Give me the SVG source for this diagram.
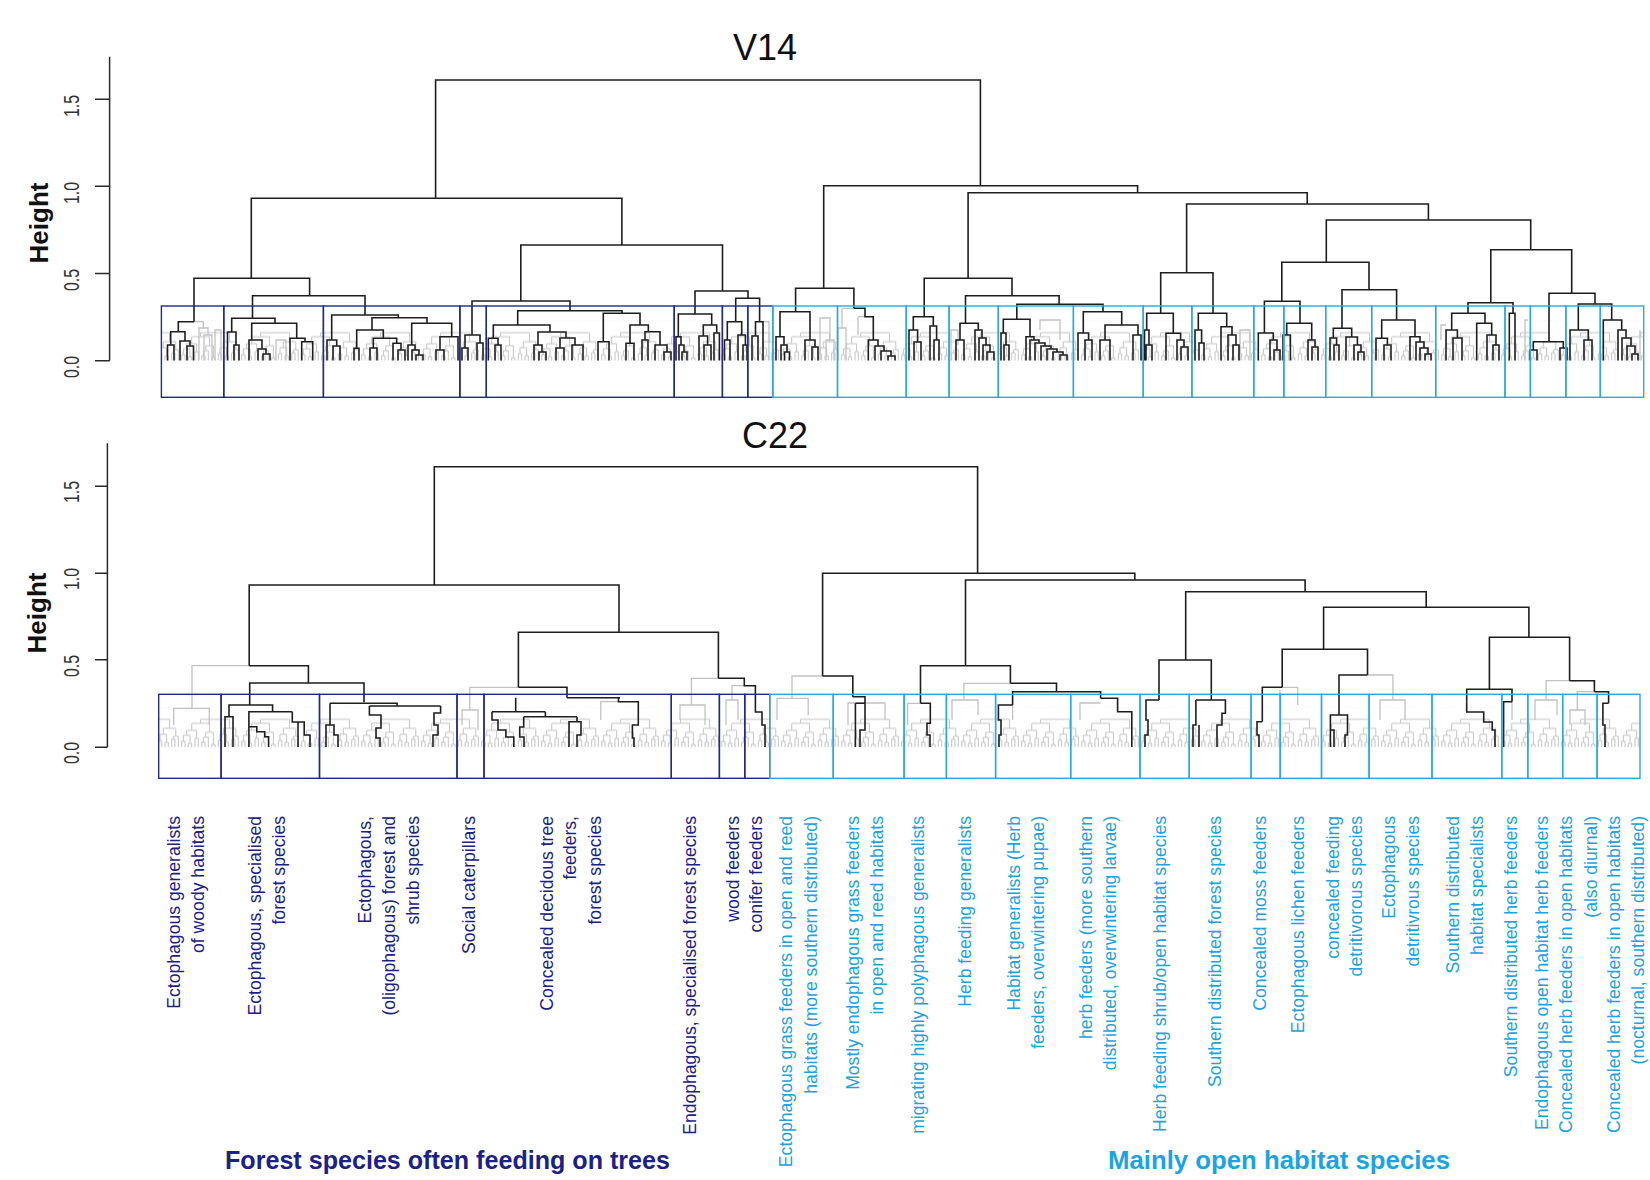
<svg xmlns="http://www.w3.org/2000/svg" width="1650" height="1180" viewBox="0 0 1650 1180">
<defs>
<style>
.blk{fill:none;stroke:#1e1e1e;stroke-width:1.6;stroke-linejoin:miter}
.gry{fill:none;stroke:#c2c2c2;stroke-width:1.3}
.ax{fill:none;stroke:#2a2a2a;stroke-width:1.5}
.nv{fill:none;stroke:#1f2a8e;stroke-width:1.4}
.lb{fill:none;stroke:#27aae3;stroke-width:1.4}
.tick{font-family:"Liberation Sans",Arial,sans-serif;font-size:16px;fill:#333;text-anchor:middle}
.ylab{font-family:"Liberation Sans",Arial,sans-serif;font-size:26px;font-weight:bold;fill:#111;text-anchor:middle}
.ttl{font-family:"Liberation Sans",Arial,sans-serif;font-size:36px;fill:#111;text-anchor:middle}
.lab{font-family:"Liberation Sans",Arial,sans-serif;font-size:17.6px;text-anchor:end}
.ln{fill:#1b2187}
.ll{fill:#1ba3e2}
.grp{font-family:"Liberation Sans",Arial,sans-serif;font-size:25px;font-weight:bold}
</style>
<pattern id="leaves" patternUnits="userSpaceOnUse" x="0" y="-40" width="60" height="40">
<path fill="none" stroke="#c4c4c4" stroke-width="1" d="M1.7,40V34H5V40M8.3,40V36H11.7V40M3.35,34V28H10V36M15,40V31H18.3V40M6.7,28V23H16.65V31M21.7,40V35H25V40M28.3,40V30H23.35V35M31.7,40V37H35V40M25.8,30V25H33.35V37M11.7,23V16H29.6V25M38.3,40V33H41.7V40M45,40V35H48.3V40M40,33V27H46.65V35M51.7,40V32H55V40M53.35,32V29H58.3V40M43.3,27V21H55.8V29M20.6,16V12H49.6V21"/>
</pattern>
</defs>
<rect width="1650" height="1180" fill="#fff"/>

<!-- axes -->
<g id="axis-v14">
<path class="ax" d="M109.6,56.7V360.7M95,99.3H109.6M95,186.3H109.6M95,273.5H109.6M95,360.7H109.6"/>
<text class="tick" transform="translate(79,106) scale(1.4,1) rotate(-90)">1.5</text>
<text class="tick" transform="translate(79,193) scale(1.4,1) rotate(-90)">1.0</text>
<text class="tick" transform="translate(79,280) scale(1.4,1) rotate(-90)">0.5</text>
<text class="tick" transform="translate(79,367) scale(1.4,1) rotate(-90)">0.0</text>
<text class="ylab" transform="translate(48,223) rotate(-90)">Height</text>
<text class="ttl" x="765" y="60">V14</text>
</g>
<g id="axis-c22">
<path class="ax" d="M107.4,443.3V747.3M95,486.3H107.4M95,573.3H107.4M95,659.7H107.4M95,747.3H107.4"/>
<text class="tick" transform="translate(79,492) scale(1.4,1) rotate(-90)">1.5</text>
<text class="tick" transform="translate(79,579) scale(1.4,1) rotate(-90)">1.0</text>
<text class="tick" transform="translate(79,666) scale(1.4,1) rotate(-90)">0.5</text>
<text class="tick" transform="translate(79,753) scale(1.4,1) rotate(-90)">0.0</text>
<text class="ylab" transform="translate(46,613) rotate(-90)">Height</text>
<text class="ttl" x="775" y="448">C22</text>
</g>

<!-- leaf texture -->
<g id="leaves-v14" transform="translate(0,360.7)"><rect x="161.4" y="-40" width="1482.3" height="40" fill="url(#leaves)"/></g>
<g id="leaves-c22" transform="translate(0,747.3)"><rect x="158.7" y="-40" width="1481.3" height="40" fill="url(#leaves)"/></g>

<g id="connectors">
<!-- V14 gray extras -->
<path class="gry" d="M194,321.7H203.3V328M199,360.5V328H208V335M204,360.5V335H212V360.5M215,360.5V330H221V360.5M276,360.5V340H286V360.5M763,321.7H769V360.5M820,360.5V318H830V340M826,360.5V340H834V360.5M842,308.3H853.9M842,308.3V328M838,360.5V328H846V360.5M858,316.7H865M858,316.7V335M951,360.5V330H958V345M1040,330V320H1060V340M1240,360.5V330H1250V360.5M1441,340V325H1446M1525,360.5V320H1528M1640,360.5V330"/>
<!-- V14 main -->
<path class="blk" d="M435.6,198.3V80H980.4V185.7
M251.3,278.3V198.3H621.9V245
M194,321.7V278.3H309.6V295.7
M252.5,318.3V295.7H365V315
M520.8,301V245H722.5V291
M472,335V301H570V310.7
M517.7,325V310.7H622V313.3
M695,314V291H748V298.3
M735.7,321.7V298.3H759.6V321.7
M823.7,288.3V185.7H1137.6V192.7
M795.6,311.7V288.3H853.9V308.3
M968.1,278.3V192.7H1307.2V204
M924.2,316.7V278.3H1012V295.7
M965.5,323.3V295.7H1059.1V304.3
M1016.8,319.3V304.3H1103V311.7
M1186.6,272.7V204H1428.4V220
M1160.7,313.3V272.7H1213V313.3
M1326.3,262.3V220H1530.7V249.7
M1281.8,301.3V262.3H1369V289.7
M1264.4,333V301.3H1300V323.3
M1342,328.3V289.7H1396.6V320
M1490.8,302.7V249.7H1571.7V293.3
M1468,313.3V302.7H1513V313.3
M1549,341.7V293.3H1595V304
M1578.3,330V304H1611.7V320"/>
<!-- V14 sub-branches -->
<path class="blk" d="M178.3,331.7V321.7H194M170.7,345V331.7H185V341M167.5,360.5V345H174V360.5M180,360.5V341H190V346M187,360.5V346H193.5V360.5
M231.7,332V318.3H275V323.3M227.5,360.5V332H236V345M234,360.5V345H239V360.5M251.7,340V323.3H296.7V338.3M249,360.5V340H262V349M258,360.5V349H266V354M263,360.5V354H270V360.5M290,360.5V338.3H305V341.7M301.7,360.5V341.7H312.7V360.5
M331.7,340V315H398.3V317.7M372,330V317.7H427V323.3M327,360.5V340H336.7V346M333,360.5V346H340V360.5M356.7,348.3V330H383.3V338.3M354,360.5V348.3H359V360.5M373.3,348V338.3H396.7V343.3M370,360.5V348H377V360.5M393,360.5V343.3H401V350M398,360.5V350H405V360.5M411.7,345V323.3H451.7V336.7M408,360.5V345H415V350M412,360.5V350H419V355M416,360.5V355H423V360.5M440,350V336.7H458V360.5M436,360.5V350H444V360.5
M465,348V335H480V343M462,360.5V348H468V360.5M477,360.5V343H483V360.5
M493.3,338.3V325H550V332M488.3,360.5V338.3H498V345M495,360.5V345H501V360.5M538,345V332H566V338M534,360.5V345H542V352M539,360.5V352H546V360.5M560,348V338H575V345M572,360.5V345H583V360.5M556,360.5V348H564V360.5
M603.3,341.7V313.3H640V325M598,360.5V341.7H609V360.5M630,343.3V325H648.3V331.7M626,360.5V343.3H634V360.5M645,340V331.7H660V345M642,360.5V340H648V360.5M655,360.5V345H667V352M664,360.5V352H671V360.5
M678.3,336.7V314H711.7V325M676,360.5V336.7H681V345M679,360.5V345H684V352M682,360.5V352H687V360.5M703.3,336V325H716.7V333M699,360.5V336H707.6V345M704,360.5V345H711V360.5M714,360.5V333H719.4V360.5
M727.3,340V321.7H741.7V335M724.5,360.5V340H730V360.5M738,360.5V335H745.4V345M743,360.5V345H747V360.5
M755.5,336V321.7H763V360.5M752,360.5V336H758V360.5
M780,336.7V311.7H810V340M776,360.5V336.7H784V345M781,360.5V345H787V352M784.5,360.5V352H789.5V360.5M805,360.5V340H815V347M812,360.5V347H818V360.5
M853.9,308.3H865V316.7H873.3V340M868.3,360.5V340H878V346M875,360.5V346H884V351M881,360.5V351H891V356M888,360.5V356H895V360.5
M913.3,330V316.7H933.3V326M909,360.5V330H917.6V342M914,360.5V342H921V360.5M930,360.5V326H936.6V340M934,360.5V340H939V360.5
M960,340V323.3H978.3V330M956,360.5V340H964V360.5M975,360.5V330H982V338M979,360.5V338H986V345M983,360.5V345H990V352M987,360.5V352H994V360.5
M1003.3,333V319.3H1030V336.7M1001,360.5V333H1006V345M1004,360.5V345H1009V360.5M1026,360.5V336.7H1034V340M1030,360.5V340H1039V343M1035,360.5V343H1045V346M1041,360.5V346H1051V349M1047,360.5V349H1057V352M1053,360.5V352H1063V355M1060,360.5V355H1067V360.5
M1083.3,333V311.7H1121.7V325M1078,360.5V333H1088.6V340M1085,360.5V340H1092V360.5M1105,340V325H1138V335M1100,360.5V340H1110V360.5M1133,360.5V335H1141V360.5
M1146.7,330V313.3H1173.3V333.3M1144.5,360.5V330H1149V345M1146,360.5V345H1152V360.5M1166,360.5V333.3H1180.6V340M1177,360.5V340H1184V347M1181,360.5V347H1188V360.5
M1198.3,330V313.3H1226.7V326.7M1195,360.5V330H1201.6V343M1199,360.5V343H1204V360.5M1221,360.5V326.7H1232V335M1228,360.5V335H1236V345M1233,360.5V345H1239V360.5
M1258.3,360.5V333H1273.3V340M1270,360.5V340H1277V350M1274,360.5V350H1280V360.5M1286.7,335V323.3H1311.7V340M1283,360.5V335H1290.4V360.5M1308,360.5V340H1315V347M1312,360.5V347H1318V360.5
M1333.3,338V328.3H1351.7V337M1330,360.5V338H1336.6V345M1334,360.5V345H1339V360.5M1346,360.5V337H1357.4V345M1354,360.5V345H1361V352M1358,360.5V352H1364V360.5
M1381.7,338.3V320H1415V336.7M1376,360.5V338.3H1387.4V345M1384,360.5V345H1391V360.5M1410,360.5V336.7H1420V342M1416,360.5V342H1424V348M1420,360.5V348H1428V354M1425,360.5V354H1431V360.5
M1451.7,330V313.3H1485V323.3M1446,360.5V330H1457.4V338M1453,360.5V338H1462V360.5M1476.7,360.5V323.3H1491.7V335M1487,360.5V335H1496V345M1493,360.5V345H1499V360.5M1509.3,360.5V313.3H1515V360.5
M1533.3,350V341.7H1563.3V348M1530,360.5V350H1537V360.5M1560,360.5V348H1567V360.5M1570,360.5V330H1588.3V340M1584,360.5V340H1592V360.5M1603.3,360.5V320H1621.7V330M1618,360.5V330H1626V338M1622,360.5V338H1631V346M1627,360.5V346H1635V354M1632,360.5V354H1638V360.5"/>

<!-- C22 gray -->
<path class="gry" d="M192,708.3V665.7H249.2M173.7,725V708.3H209.3V725M469.8,710V687.3H518.4M462,725V710H478V730M691.4,705V678.3H718.4M680,720V705H705V725M732,700V685.7H744.3M726,725V700H738V720M792,698.3V676H822.6M777,720V698.3H808.2V715M848,725V703H885V720M907.6,725V703.3H920.5M963.9,700V683.3H1010.4M952,720V700H978V715M1080,720V703H1100.6M1012.6,705V720M1282.2,687.3H1297.7V705M1367.5,675H1392.9V700M1380,720V700H1405V720M1512,701.7V720M1546.1,700V680.7H1569.6M1535,720V700H1557V715M1577.3,710V691.7H1594.4M1570,725V710H1585V725M600.8,720V701.7H618.5M1280,700V690"/>
<!-- C22 main -->
<path class="blk" d="M434.3,585V466.7H977.6V573.3
M249.2,665.7V585H619V632.3
M249.2,665.7H308.4V683
M249.7,705V683H364V702.3
M518.4,687.3V632.3H718.4V678.3
M518.4,687.3H567V697.7
M718.4,678.3H744.3V685.7H755.4V705
M822.6,676V573.3H1134.8V580
M822.6,676H852.8V696.7
M965.5,665.7V580H1305.1V591.7
M920.5,703.3V665.7H1010.4V683.3
M1010.4,683.3H1056.5V691.7
M1012.6,705V691.7H1100.6V698.3
M1185.7,660V591.7H1426.2V607.3
M1159,700V660H1211.3V700
M1323.6,649.3V607.3H1528.9V637.3
M1282.2,687.3V649.3H1367.5V675
M1262.3,721.7V687.3H1282.2
M1339,715V675H1367.5
M1489.4,689.3V637.3H1569.6V680.7
M1466.7,701.7V689.3H1512V701.7
M1569.6,680.7H1594.4V691.7
M1594.4,691.7H1608.6V703.3"/>
<!-- C22 sub-branches -->
<path class="blk" d="M229,716.7V705H272.6V711.7M225,747V716.7H233V747M248.9,747V711.7H292.3M248.9,726.7H256.8V731.7H264.7V736.7H268.6V747M292.3,711.7V722H304.2V735H310V747M298,747V722
M330,703.3H397.1V706M330,703.3V725H334V735H338V747M326,747V725H330M369.4,706H440.6M369.4,706V715H381V728H376V738H380V747M440.6,706V713H434V725H438V735H433V747
M515.7,697.7V711.7M492,711.7H545.4M492,711.7V720H498V730H505.9V737H513.8V747M545.4,711.7V716.7M523.7,716.7H577M523.7,716.7V727H519.7V737H524V747M577,716.7V721.7M569,747V721.7H581V735H577V747M567,697.7H620M618.5,697.7V701.7H638.3V725H632.4V738H634V747
M755.4,705V712H762V725H765V747
M852.8,696.7H865V703.3M855.4,703.3H865M855.4,703.3V747M865,703.3V730H860V747
M920.5,703.3H930.3V723.3H927V735H930V747
M1012.6,705H998.4V720H1001V735H999V747
M1100.6,698.3H1117.6V711.7H1131.8V747
M1159,700H1146V720H1148V735H1145V747M1195.9,700H1225.4V713.3H1222V725H1217V747M1195.9,700V725H1193V747M1199,747V725
M1262.3,721.7H1257V735H1259V747M1330.4,747V715H1347.5V735H1345V747M1330.4,730H1334V747
M1466.7,701.7V712H1483.7V722H1492.2V730H1495V747M1512,701.7H1503.6V747
M1608.6,703.3H1602.9V725H1605V747"/>
</g>

<!-- V14 cluster boxes -->
<g id="v14-c01"><rect class="nv" x="161.4" y="306" width="62.4" height="91.3"/></g>
<g id="v14-c02"><rect class="nv" x="223.8" y="306" width="99.6" height="91.3"/></g>
<g id="v14-c03"><rect class="nv" x="323.4" y="306" width="136.5" height="91.3"/></g>
<g id="v14-c04"><rect class="nv" x="459.9" y="306" width="26.4" height="91.3"/></g>
<g id="v14-c05"><rect class="nv" x="486.3" y="306" width="187.9" height="91.3"/></g>
<g id="v14-c06"><rect class="nv" x="674.2" y="306" width="48.2" height="91.3"/></g>
<g id="v14-c07"><rect class="nv" x="722.4" y="306" width="25.4" height="91.3"/></g>
<g id="v14-c08"><rect class="nv" x="747.8" y="306" width="24.9" height="91.3"/></g>
<g id="v14-c09"><rect class="lb" x="772.7" y="306" width="64.8" height="91.3"/></g>
<g id="v14-c10"><rect class="lb" x="837.5" y="306" width="68.7" height="91.3"/></g>
<g id="v14-c11"><rect class="lb" x="906.2" y="306" width="42.9" height="91.3"/></g>
<g id="v14-c12"><rect class="lb" x="949.1" y="306" width="49.2" height="91.3"/></g>
<g id="v14-c13"><rect class="lb" x="998.3" y="306" width="75.1" height="91.3"/></g>
<g id="v14-c14"><rect class="lb" x="1073.4" y="306" width="69.8" height="91.3"/></g>
<g id="v14-c15"><rect class="lb" x="1143.2" y="306" width="48.7" height="91.3"/></g>
<g id="v14-c16"><rect class="lb" x="1191.9" y="306" width="61.9" height="91.3"/></g>
<g id="v14-c17"><rect class="lb" x="1253.8" y="306" width="30.1" height="91.3"/></g>
<g id="v14-c18"><rect class="lb" x="1283.9" y="306" width="41.8" height="91.3"/></g>
<g id="v14-c19"><rect class="lb" x="1325.7" y="306" width="46" height="91.3"/></g>
<g id="v14-c20"><rect class="lb" x="1371.7" y="306" width="64" height="91.3"/></g>
<g id="v14-c21"><rect class="lb" x="1435.7" y="306" width="69.3" height="91.3"/></g>
<g id="v14-c22"><rect class="lb" x="1505" y="306" width="25.4" height="91.3"/></g>
<g id="v14-c23"><rect class="lb" x="1530.4" y="306" width="35.5" height="91.3"/></g>
<g id="v14-c24"><rect class="lb" x="1565.9" y="306" width="34.4" height="91.3"/></g>
<g id="v14-c25"><rect class="lb" x="1600.3" y="306" width="43.4" height="91.3"/></g>

<!-- C22 cluster boxes -->
<g id="c22-c01"><rect class="nv" x="158.7" y="694.3" width="62.4" height="84"/></g>
<g id="c22-c02"><rect class="nv" x="221.1" y="694.3" width="98.4" height="84"/></g>
<g id="c22-c03"><rect class="nv" x="319.5" y="694.3" width="137.5" height="84"/></g>
<g id="c22-c04"><rect class="nv" x="457" y="694.3" width="27" height="84"/></g>
<g id="c22-c05"><rect class="nv" x="484" y="694.3" width="187.3" height="84"/></g>
<g id="c22-c06"><rect class="nv" x="671.3" y="694.3" width="48.1" height="84"/></g>
<g id="c22-c07"><rect class="nv" x="719.4" y="694.3" width="25.4" height="84"/></g>
<g id="c22-c08"><rect class="nv" x="744.8" y="694.3" width="24.9" height="84"/></g>
<g id="c22-c09"><rect class="lb" x="769.7" y="694.3" width="63.5" height="84"/></g>
<g id="c22-c10"><rect class="lb" x="833.2" y="694.3" width="70.9" height="84"/></g>
<g id="c22-c11"><rect class="lb" x="904.1" y="694.3" width="42.3" height="84"/></g>
<g id="c22-c12"><rect class="lb" x="946.4" y="694.3" width="49.2" height="84"/></g>
<g id="c22-c13"><rect class="lb" x="995.6" y="694.3" width="75.1" height="84"/></g>
<g id="c22-c14"><rect class="lb" x="1070.7" y="694.3" width="69.3" height="84"/></g>
<g id="c22-c15"><rect class="lb" x="1140" y="694.3" width="49.2" height="84"/></g>
<g id="c22-c16"><rect class="lb" x="1189.2" y="694.3" width="61.9" height="84"/></g>
<g id="c22-c17"><rect class="lb" x="1251.1" y="694.3" width="29.1" height="84"/></g>
<g id="c22-c18"><rect class="lb" x="1280.2" y="694.3" width="41.3" height="84"/></g>
<g id="c22-c19"><rect class="lb" x="1321.5" y="694.3" width="47.6" height="84"/></g>
<g id="c22-c20"><rect class="lb" x="1369.1" y="694.3" width="62.9" height="84"/></g>
<g id="c22-c21"><rect class="lb" x="1432" y="694.3" width="69.8" height="84"/></g>
<g id="c22-c22"><rect class="lb" x="1501.8" y="694.3" width="26" height="84"/></g>
<g id="c22-c23"><rect class="lb" x="1527.8" y="694.3" width="34.9" height="84"/></g>
<g id="c22-c24"><rect class="lb" x="1562.7" y="694.3" width="34.4" height="84"/></g>
<g id="c22-c25"><rect class="lb" x="1597.1" y="694.3" width="42.9" height="84"/></g>

<!-- cluster labels -->
<g id="label-01" class="lab ln"><text transform="translate(180,816) rotate(-90)">Ectophagous generalists</text><text transform="translate(204,816) rotate(-90)">of woody habitats</text></g>
<g id="label-02" class="lab ln"><text transform="translate(261,816) rotate(-90)">Ectophagous, specialised</text><text transform="translate(285,816) rotate(-90)">forest species</text></g>
<g id="label-03" class="lab ln"><text transform="translate(371,816) rotate(-90)">Ectophagous,</text><text transform="translate(395,816) rotate(-90)">(oligophagous) forest and</text><text transform="translate(419,816) rotate(-90)">shrub species</text></g>
<g id="label-04" class="lab ln"><text transform="translate(474.5,816) rotate(-90)">Social caterpillars</text></g>
<g id="label-05" class="lab ln"><text transform="translate(553,816) rotate(-90)">Concealed decidous tree</text><text transform="translate(576,816) rotate(-90)">feeders,</text><text transform="translate(601,816) rotate(-90)">forest species</text></g>
<g id="label-06" class="lab ln"><text transform="translate(696,816) rotate(-90)">Endophagous, specialised forest species</text></g>
<g id="label-07" class="lab ln"><text transform="translate(738.5,816) rotate(-90)">wood feeders</text><text transform="translate(762,816) rotate(-90)">conifer feeders</text></g>
<g id="label-08" class="lab ll"><text transform="translate(792,816) rotate(-90)">Ectophagous grass feeders in open and reed</text><text transform="translate(817,816) rotate(-90)">habitats (more southern distributed)</text></g>
<g id="label-09" class="lab ll"><text transform="translate(859,816) rotate(-90)">Mostly endophagous grass feeders</text><text transform="translate(883,816) rotate(-90)">in open and reed habitats</text></g>
<g id="label-10" class="lab ll"><text transform="translate(924,816) rotate(-90)">migrating highly polyphagous generalists</text></g>
<g id="label-11" class="lab ll"><text transform="translate(971,816) rotate(-90)">Herb feeding generalists</text></g>
<g id="label-12" class="lab ll"><text transform="translate(1020,816) rotate(-90)">Habitat generalists (Herb</text><text transform="translate(1044,816) rotate(-90)">feeders, overwintering pupae)</text></g>
<g id="label-13" class="lab ll"><text transform="translate(1092,816) rotate(-90)">herb feeders (more southern</text><text transform="translate(1116,816) rotate(-90)">distributed, overwintering larvae)</text></g>
<g id="label-14" class="lab ll"><text transform="translate(1166,816) rotate(-90)">Herb feeding shrub/open habitat species</text></g>
<g id="label-15" class="lab ll"><text transform="translate(1221,816) rotate(-90)">Southern distributed forest species</text></g>
<g id="label-16" class="lab ll"><text transform="translate(1266,816) rotate(-90)">Concealed moss feeders</text></g>
<g id="label-17" class="lab ll"><text transform="translate(1303.5,816) rotate(-90)">Ectophagous lichen feeders</text></g>
<g id="label-18" class="lab ll"><text transform="translate(1339,816) rotate(-90)">concealed feeding</text><text transform="translate(1361.5,816) rotate(-90)">detritivorous species</text></g>
<g id="label-19" class="lab ll"><text transform="translate(1395,816) rotate(-90)">Ectophagous</text><text transform="translate(1419,816) rotate(-90)">detritivrous species</text></g>
<g id="label-20" class="lab ll"><text transform="translate(1458.5,816) rotate(-90)">Southern distributed</text><text transform="translate(1483,816) rotate(-90)">habitat specialists</text></g>
<g id="label-21" class="lab ll"><text transform="translate(1517,816) rotate(-90)">Southern distributed herb feeders</text></g>
<g id="label-22" class="lab ll"><text transform="translate(1548,816) rotate(-90)">Endophagous open habitat herb feeders</text></g>
<g id="label-23" class="lab ll"><text transform="translate(1572,816) rotate(-90)">Concealed herb feeders in open habitats</text><text transform="translate(1597,816) rotate(-90)">(also diurnal)</text></g>
<g id="label-24" class="lab ll"><text transform="translate(1619.5,816) rotate(-90)">Concealed herb feeders in open habitats</text><text transform="translate(1643.5,816) rotate(-90)">(nocturnal, southern distributed)</text></g>

<g id="group-forest"><text class="grp" x="225" y="1169" fill="#1b2187" textLength="445" lengthAdjust="spacingAndGlyphs">Forest species often feeding on trees</text></g>
<g id="group-open"><text class="grp" x="1108" y="1169" fill="#1ba3e2" textLength="342" lengthAdjust="spacingAndGlyphs">Mainly open habitat species</text></g>
</svg>
